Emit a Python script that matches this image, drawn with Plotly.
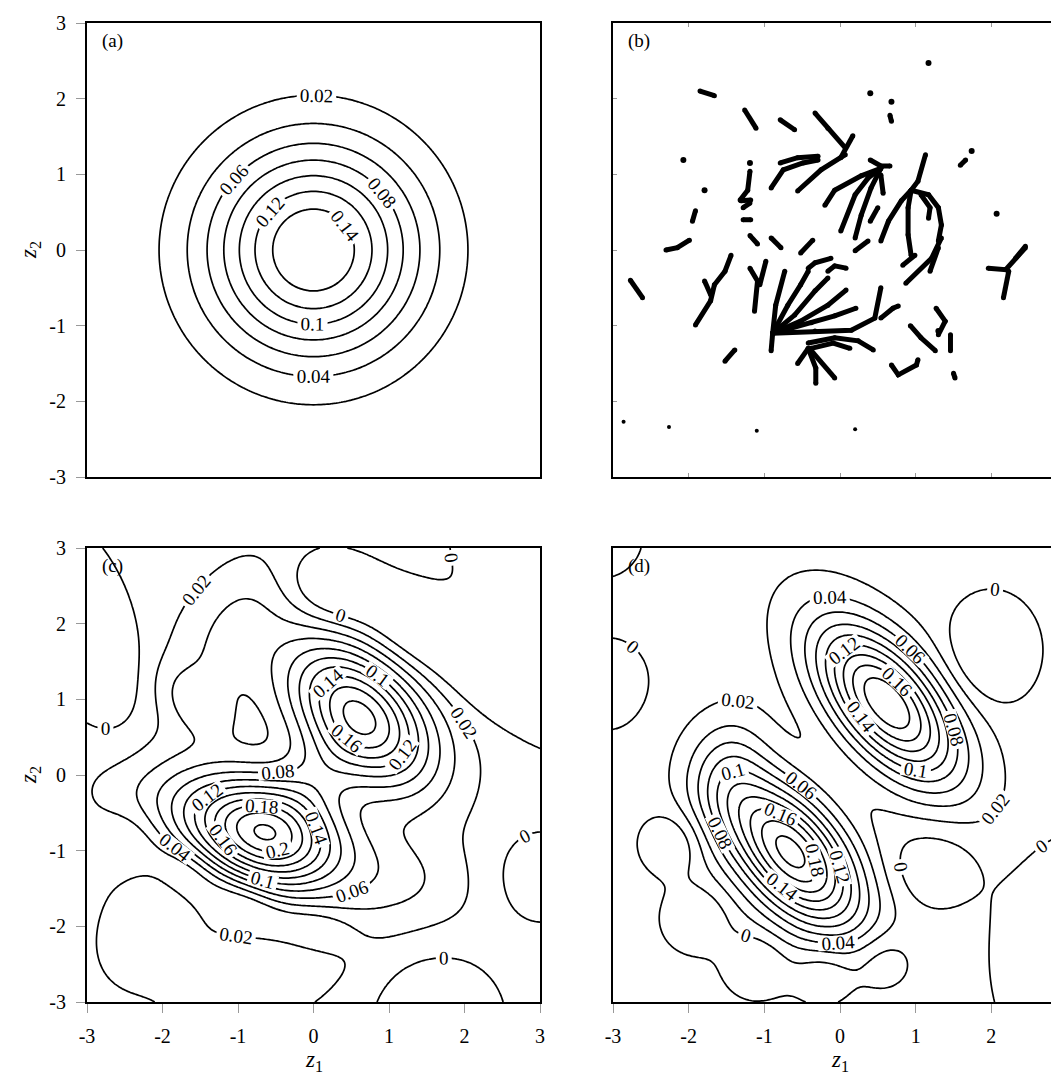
import numpy as np
import plotly.graph_objects as go

# ---------------- data ----------------
tick_vals = [-3, -2, -1, 0, 1, 2, 3]
tick_text = ["-3", "-2", "-1", "0", "1", "2", "3"]

# (a) true density: one component (centre, height, spreads, tilt in degrees)
a_cx = [0.0]; a_cy = [0.0]; a_amp = [0.162]; a_su = [1.0]; a_sv = [1.0]; a_ang = [0.0]
a_base = 0.0

# (c) estimated density, components
c_cx  = [-0.63, 0.62, 0.0, -1.8, 1.1, -1.05, -1.4, -2.2, -0.6, -2.4, -1.7, -0.9, 0.0, -1.55,
         -3.0, 0.25, 1.3, 2.4, 3.3, 3.3, 1.65, 3.0]
c_cy  = [-0.79, 0.78, -0.05, -0.35, -1.35, 1.95, 0.8, -1.9, -2.6, -0.85, -1.25, -1.7, -2.0, 0.95,
         1.9, 2.45, 1.95, 1.35, 0.9, 3.3, -3.25, -1.35]
c_amp = [0.2, 0.175, 0.03, 0.025, 0.03, 0.025, 0.014, 0.022, 0.024, -0.02, -0.038, -0.035, -0.03, 0.026,
         -0.05, -0.04, -0.04, -0.04, -0.04, -0.06, -0.05, -0.025]
c_su  = [0.72, 0.8, 0.5, 0.75, 0.7, 0.7, 1.2, 0.7, 1.0, 0.3, 0.35, 0.4, 0.4, 0.4,
         0.9, 0.45, 0.55, 0.55, 0.55, 0.8, 0.5, 0.45]
c_sv  = [0.48, 0.5, 0.35, 0.4, 0.45, 0.4, 0.8, 0.45, 0.5, 0.3, 0.22, 0.22, 0.22, 0.25,
         0.4, 0.35, 0.35, 0.35, 0.35, 0.8, 0.5, 0.45]
c_ang = [-18, -45, 45, -10, -10, 60, 66, 60, 25, 0, -30, -25, -10, -40,
         -70, -20, -30, -30, -30, 0, 0, 0]
c_base = 0.01

# (d) estimated density, components
d_cx  = [0.62, -0.65, -1.5, -2.2, -1.9, -1.1, -0.2, 0.55, -3.15, -3.05, 2.0, 1.2, 3.0]
d_cy  = [0.95, -1.02, 0.0, -0.9, -1.9, -2.5, -2.6, -2.45, 3.15, 1.2, 1.65, -1.2, -2.4]
d_amp = [0.19, 0.2, 0.035, -0.03, -0.03, -0.03, -0.03, -0.03, -0.02, -0.02, -0.04, -0.025, -0.035]
d_su  = [0.9, 0.85, 0.6, 0.3, 0.3, 0.3, 0.3, 0.3, 0.4, 0.4, 0.38, 0.45, 0.6]
d_sv  = [0.45, 0.45, 0.35, 0.3, 0.3, 0.3, 0.3, 0.3, 0.4, 0.45, 0.45, 0.4, 0.95]
d_ang = [-50, -50, 80, 0, 0, 0, 0, 0, 0, 0, 0, 30, 0]
d_base = 0.008

# (b) trajectories
traj_x = [
    [-1.85, -1.66], [0.66, 0.68], [-1.26, -1.11], [-0.79, -0.60], [-0.33, -0.16, 0.07],
    [0.17, 0.01], [-0.79, -0.56, -0.29], [-0.91, -0.75, -0.49, -0.29], [-0.56, -0.25, 0.07],
    [-1.19, -1.22, -1.32], [-1.31, -1.18], [-1.28, -1.19], [-1.91, -1.95], [-1.28, -1.18],
    [-2.30, -2.15, -1.99], [1.59, 1.66], [0.40, 0.54, 0.66], [0.54, 0.28, -0.07, -0.20],
    [0.54, 0.37, 0.20, 0.01], [0.54, 0.41, 0.28, 0.20], [0.54, 0.57], [0.50, 0.40],
    [1.13, 1.03, 0.94], [0.94, 0.81, 0.64, 0.54], [0.94, 0.90, 0.90, 0.94],
    [0.94, 1.17, 1.30, 1.34, 1.30], [1.07, 1.19, 1.17], [2.45, 2.32], [-2.77, -2.61],
    [-1.91, -1.71, -1.66, -1.52, -1.44], [-1.79, -1.71], [-1.52, -1.39], [-1.19, -1.09, -1.13],
    [-1.06, -0.98], [-0.89, -0.85, -0.73], [-0.89, -0.69, -0.52, -0.42],
    [-0.89, -0.60, -0.33, -0.16], [-0.89, -0.52, -0.16, 0.08], [-0.89, -0.38, -0.07, 0.21],
    [-0.89, -0.33, 0.15, 0.46, 0.54], [-0.89, -0.91], [-0.42, -0.33, -0.12], [-0.16, -0.07, 0.08],
    [0.54, 0.70, 0.77], [-0.42, -0.07, 0.24, 0.44], [-0.38, -0.09, 0.13], [-0.42, -0.32, -0.32],
    [-0.42, -0.56], [-0.38, -0.07], [0.93, 1.07, 1.26], [1.27, 1.39, 1.30], [1.46, 1.46],
    [0.68, 0.77, 1.01, 1.03], [1.50, 1.52], [1.96, 2.19, 2.45], [2.23, 2.16], [0.20, 0.37],
    [0.87, 1.21, 1.34], [1.19, 1.30], [0.83, 0.99], [-1.19, -1.09], [-0.91, -0.78], [-0.52, -0.36],
]
traj_y = [
    [2.10, 2.04], [1.78, 1.70], [1.85, 1.61], [1.72, 1.59], [1.81, 1.61, 1.35],
    [1.51, 1.22], [1.15, 1.22, 1.24], [0.82, 1.06, 1.15, 1.19], [0.78, 1.06, 1.26],
    [1.04, 0.79, 0.66], [0.65, 0.66], [0.56, 0.62], [0.52, 0.38], [0.40, 0.40],
    [0.00, 0.03, 0.13], [1.12, 1.19], [1.19, 1.11, 1.11], [1.08, 0.98, 0.79, 0.59],
    [1.08, 0.95, 0.73, 0.25], [1.08, 0.82, 0.46, 0.16], [0.99, 0.75], [0.56, 0.38],
    [1.26, 0.91, 0.79], [0.79, 0.65, 0.38, 0.12], [0.79, 0.56, 0.20, -0.07],
    [0.79, 0.73, 0.56, 0.33, 0.12], [0.73, 0.56, 0.42], [0.05, -0.11], [-0.40, -0.63],
    [-0.99, -0.67, -0.46, -0.28, -0.07], [-0.41, -0.59], [-1.47, -1.32], [-0.24, -0.41, -0.81],
    [-0.46, -0.15], [-1.10, -0.73, -0.28], [-1.10, -0.73, -0.46, -0.28],
    [-1.10, -0.86, -0.54, -0.37], [-1.10, -0.94, -0.73, -0.53], [-1.10, -0.96, -0.87, -0.77],
    [-1.10, -1.07, -1.06, -0.90, -0.50], [-1.10, -1.33], [-0.24, -0.17, -0.11], [-0.28, -0.21, -0.24],
    [-0.90, -0.77, -0.74], [-1.23, -1.16, -1.20, -1.32], [-1.30, -1.23, -1.30], [-1.30, -1.56, -1.76],
    [-1.30, -1.50], [-1.33, -1.69], [-1.00, -1.16, -1.33], [-0.77, -0.94, -1.12], [-1.12, -1.33],
    [-1.52, -1.65, -1.52, -1.45], [-1.63, -1.69], [-0.24, -0.26, 0.03], [-0.28, -0.63], [-0.01, 0.12],
    [-0.44, -0.11, 0.16], [-0.28, 0.03], [-0.20, -0.07], [0.19, 0.08], [0.16, 0.03], [-0.04, 0.13],
]
dot_x = [1.17, 0.40, 0.68, -2.07, -1.19, -1.79, 1.74, 2.07, 1.30]
dot_y = [2.47, 2.07, 1.96, 1.19, 1.15, 0.79, 1.31, 0.48, -1.07]
small_dot_x = [-2.86, -2.26, -1.10, 0.20]
small_dot_y = [-2.27, -2.34, -2.39, -2.37]

# ---------------- build ----------------
grid = np.linspace(-3, 3, 181)
GX, GY = np.meshgrid(grid, grid)


def field(cx, cy, amp, su, sv, ang, base):
    Z = np.full_like(GX, base)
    for x0, y0, A, s1, s2, a in zip(cx, cy, amp, su, sv, ang):
        t = np.deg2rad(a)
        dx, dy = GX - x0, GY - y0
        u = dx * np.cos(t) + dy * np.sin(t)
        v = -dx * np.sin(t) + dy * np.cos(t)
        Z += A * np.exp(-0.5 * ((u / s1) ** 2 + (v / s2) ** 2))
    return Z


FONT = "Liberation Serif"
W, H = 1059, 1077
fig = go.Figure()


def contour(Z, start, end, xa, ya):
    return go.Contour(
        x=grid, y=grid, z=Z, xaxis=xa, yaxis=ya,
        contours=dict(start=start, end=end, size=0.02, coloring="lines", showlabels=True,
                      labelfont=dict(family=FONT, size=19, color="black"), labelformat=".2~f"),
        line=dict(width=1.7, smoothing=1.0),
        colorscale=[[0, "black"], [1, "black"]], showscale=False, hoverinfo="skip",
    )


fig.add_trace(contour(field(a_cx, a_cy, a_amp, a_su, a_sv, a_ang, a_base), 0.02, 0.14, "x", "y"))
fig.add_trace(contour(field(c_cx, c_cy, c_amp, c_su, c_sv, c_ang, c_base), 0.0, 0.22, "x3", "y3"))
fig.add_trace(contour(field(d_cx, d_cy, d_amp, d_su, d_sv, d_ang, d_base), 0.0, 0.22, "x4", "y4"))

sx, sy = [], []
for xs, ys in zip(traj_x, traj_y):
    sx += xs + [None]
    sy += ys + [None]
fig.add_trace(go.Scatter(x=sx, y=sy, xaxis="x2", yaxis="y2", mode="lines+markers",
                         line=dict(color="black", width=5), marker=dict(color="black", size=5),
                         hoverinfo="skip", showlegend=False))
fig.add_trace(go.Scatter(x=dot_x, y=dot_y, xaxis="x2", yaxis="y2", mode="markers",
                         marker=dict(color="black", size=6), hoverinfo="skip", showlegend=False))
fig.add_trace(go.Scatter(x=small_dot_x, y=small_dot_y, xaxis="x2", yaxis="y2", mode="markers",
                         marker=dict(color="black", size=4), hoverinfo="skip", showlegend=False))

xl = [79 / W, 532 / W]
xr = [605 / W, 1.0]
yt = [(H - 469) / H, (H - 15) / H]
yb = [(H - 994) / H, (H - 540) / H]


def ax(domain, anchor, labels, ticks_in=False):
    d = dict(domain=domain, anchor=anchor, range=[-3, 3], showgrid=False, zeroline=False,
             showline=True, linecolor="black", linewidth=2, mirror=True,
             tickvals=tick_vals, ticktext=tick_text, automargin=False,
             tickfont=dict(family=FONT, size=20, color="black"))
    if labels:
        d.update(ticks="outside", ticklen=9, tickcolor="#999999", tickwidth=1, showticklabels=True,
                 ticklabelstandoff=6)
    elif ticks_in:
        d.update(ticks="inside", ticklen=4, tickcolor="#999999", tickwidth=1, showticklabels=False,
                 mirror="ticks")
    else:
        d.update(ticks="", showticklabels=False)
    return d


fig.update_layout(
    width=W, height=H, margin=dict(l=0, r=0, t=0, b=0),
    paper_bgcolor="white", plot_bgcolor="white", showlegend=False, template="none",
    font=dict(family=FONT, color="black"),
    xaxis=ax(xl, "y", False), yaxis=ax(yt, "x", True),
    xaxis2=ax(xr, "y2", False, True), yaxis2=ax(yt, "x2", False, True),
    xaxis3=ax(xl, "y3", True), yaxis3=ax(yb, "x3", True),
    xaxis4=ax(xr, "y4", True), yaxis4=ax(yb, "x4", False),
)

ann = []
for lab, xr_, yr_ in [("(a)", "x domain", "y domain"), ("(b)", "x2 domain", "y2 domain"),
                      ("(c)", "x3 domain", "y3 domain"), ("(d)", "x4 domain", "y4 domain")]:
    ann.append(dict(text=lab, xref=xr_, yref=yr_, x=0.028, y=0.96, xanchor="left", yanchor="middle",
                    showarrow=False, font=dict(family=FONT, size=19, color="black")))
for yy in [1 - 242 / H, 1 - 767 / H]:
    ann.append(dict(text="<i>z</i><sub>2</sub>", xref="paper", yref="paper", x=22 / W, y=yy,
                    xanchor="center", yanchor="middle",
                    textangle=-90, showarrow=False, font=dict(family=FONT, size=23, color="black")))
for xx in [306 / W, 832 / W]:
    ann.append(dict(text="<i>z</i><sub>1</sub>", xref="paper", yref="paper", x=xx, y=1 - 1037 / H,
                    xanchor="center", yanchor="top",
                    showarrow=False, font=dict(family=FONT, size=23, color="black")))
fig.update_layout(annotations=ann)

fig.write_html("out.html")
